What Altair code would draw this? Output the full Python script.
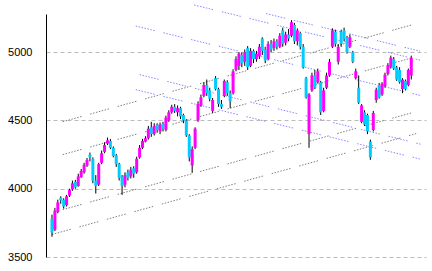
import altair as alt
import pandas as pd

# Candles (index 0..123), prices
opens = [3780, 3700, 3830, 3935, 3920, 3880, 3950, 3995, 4050, 4020,
         4085, 4120, 4170, 4250, 4220, 4060, 4030, 4190, 4270, 4330,
         4350, 4300, 4245, 4180, 4090, 4030, 4120, 4090, 4150, 4120,
         4230, 4300, 4345, 4370, 4450, 4400, 4470, 4420, 4475, 4430,
         4500, 4560, 4600, 4560, 4590, 4540, 4500, 4390, 4170, 4300,
         4500, 4610, 4680, 4760, 4720, 4570, 4810, 4730, 4620, 4680,
         4780, 4700, 4700, 4870, 4900, 4980, 4930, 5030, 4900, 5010,
         4950, 4970, 5100, 5020, 4950, 5060, 5030, 5080, 5040, 5160,
         5070, 5130, 5120, 5200, 5080, 5140, 5040, 4810, 4400, 4720,
         4830, 4780, 4780, 4570, 4740, 4830, 5040, 5150, 4930, 5150,
         5160, 5110, 5040, 5000, 4810, 4740, 4490, 4560, 4540, 4345,
         4430, 4650, 4760, 4690, 4750, 4840, 4890, 4950, 4890, 4870,
         4730, 4790, 4760, 4830]
highs = [3810, 3860, 3920, 3945, 3930, 3955, 4000, 4060, 4065, 4110,
         4145, 4190, 4225, 4265, 4230, 4100, 4190, 4280, 4340, 4375,
         4365, 4310, 4255, 4190, 4100, 4120, 4140, 4160, 4165, 4235,
         4320, 4365, 4385, 4460, 4490, 4480, 4480, 4485, 4490, 4535,
         4575, 4615, 4620, 4610, 4600, 4550, 4510, 4400, 4310, 4450,
         4640, 4690, 4780, 4800, 4740, 4665, 4825, 4740, 4650, 4800,
         4795, 4720, 4875, 4970, 5000, 5000, 5020, 5045, 5030, 5020,
         5010, 5060, 5110, 5040, 5080, 5090, 5100, 5095, 5140, 5180,
         5150, 5170, 5235, 5215, 5175, 5150, 5060, 4820, 4700, 4850,
         4870, 4880, 4790, 4740, 4850, 4950, 5175, 5165, 5060, 5165,
         5180, 5120, 5130, 5010, 4880, 4830, 4620, 4575, 4550, 4360,
         4570, 4740, 4775, 4780, 4850, 4920, 4975, 4965, 4900, 4890,
         4810, 4800, 4880, 4975]
lows = [3648, 3690, 3820, 3890, 3855, 3870, 3940, 3985, 4000, 4015,
        4080, 4110, 4160, 4200, 4040, 3965, 4020, 4180, 4260, 4320,
        4290, 4230, 4160, 4060, 3955, 4010, 4060, 4075, 4080, 4110,
        4220, 4290, 4340, 4360, 4380, 4390, 4410, 4400, 4420, 4420,
        4490, 4550, 4555, 4530, 4510, 4480, 4380, 4200, 4116, 4290,
        4490, 4600, 4670, 4680, 4640, 4555, 4720, 4600, 4585, 4670,
        4680, 4590, 4690, 4860, 4870, 4890, 4900, 4870, 4890, 4920,
        4930, 4950, 4980, 4920, 4940, 5000, 5010, 5020, 5030, 5040,
        5050, 5080, 5110, 5060, 5050, 5020, 4880, 4660, 4300, 4710,
        4730, 4770, 4540, 4560, 4730, 4820, 5030, 5040, 4910, 5040,
        5080, 4990, 5030, 4920, 4800, 4620, 4480, 4460, 4400, 4212,
        4420, 4630, 4660, 4680, 4740, 4830, 4880, 4870, 4790, 4770,
        4700, 4720, 4750, 4800]
closes = [3680, 3840, 3900, 3915, 3870, 3945, 3990, 4040, 4010, 4090,
          4130, 4175, 4210, 4230, 4060, 4020, 4180, 4260, 4320, 4355,
          4300, 4240, 4180, 4080, 4020, 4100, 4080, 4140, 4110, 4220,
          4300, 4350, 4370, 4440, 4400, 4460, 4430, 4470, 4440, 4520,
          4560, 4600, 4570, 4590, 4530, 4500, 4390, 4230, 4290, 4440,
          4620, 4670, 4760, 4700, 4660, 4650, 4730, 4620, 4600, 4790,
          4700, 4640, 4860, 4950, 4990, 4920, 5000, 4890, 5010, 4950,
          4990, 5040, 5010, 4940, 5060, 5020, 5080, 5040, 5120, 5060,
          5130, 5100, 5220, 5080, 5160, 5040, 4890, 4670, 4690, 4830,
          4740, 4860, 4560, 4720, 4830, 4930, 5160, 5060, 5040, 5060,
          5100, 5000, 5110, 4930, 4860, 4630, 4610, 4470, 4420, 4230,
          4555, 4725, 4670, 4770, 4835, 4905, 4960, 4880, 4800, 4780,
          4800, 4730, 4870, 4960]

# Trend lines: start/end (candle index, price)
gray_names = ["g1", "g2", "g3", "g4"]
gray_x1 = [3.67, 3.67, 3.67, 0.0]
gray_y1 = [4491, 4250, 3847, 3665]
gray_x2 = [124.67, 124.67, 124.67, 124.67]
gray_y2 = [5209, 4967, 4565, 4404]

blue_names = ["b1", "b2", "b3", "b4", "b5"]
blue_x1 = [48.67, 73.33, 28.67, 30.0, 28.67]
blue_y1 = [5346, 5283, 5192, 4836, 4726]
blue_x2 = [126.0, 126.0, 126.0, 126.67, 126.0]
blue_y2 = [4942, 5008, 4684, 4324, 4218]

tick_values = [3500, 4000, 4500, 5000]

df = pd.DataFrame({"i": list(range(len(opens))), "open": opens, "high": highs,
                   "low": lows, "close": closes})


def seg_frame(names, x1, y1, x2, y2):
    rows = []
    for n, a, b, c, d in zip(names, x1, y1, x2, y2):
        rows.append({"name": n, "x": a, "v": b})
        rows.append({"name": n, "x": c, "v": d})
    return pd.DataFrame(rows)


gdf = seg_frame(gray_names, gray_x1, gray_y1, gray_x2, gray_y2)
bdf = seg_frame(blue_names, blue_x1, blue_y1, blue_x2, blue_y2)

xs = alt.Scale(domain=[-0.333, 126.333], nice=False, zero=False)
ys = alt.Scale(domain=[3500, 5280], nice=False, zero=False)
yaxis = alt.Axis(values=tick_values, title=None, grid=True, ticks=False, format="d",
                 gridDash=[4, 3], gridColor="#BBBBBB", domainColor="black",
                 labelFont="Liberation Sans", labelFontSize=11, labelColor="black",
                 labelPadding=14)

dash = [1.5, 1.5, 1.5, 1.5, 1.5, 1.5, 1.5, 1.5, 1.5, 1.5, 1.5, 1.5, 1.5, 9]

gray_lines = alt.Chart(gdf).mark_line(color="#808080", strokeWidth=1, strokeDash=dash).encode(
    x=alt.X("x:Q", scale=xs, axis=None),
    y=alt.Y("v:Q", scale=ys, axis=yaxis),
    detail="name:N",
)
blue_lines = alt.Chart(bdf).mark_line(color="#8888FF", strokeWidth=1, strokeDash=dash).encode(
    x=alt.X("x:Q", scale=xs, axis=None),
    y=alt.Y("v:Q", scale=ys, axis=yaxis),
    detail="name:N",
)

base = alt.Chart(df)
wicks = base.mark_rule(color="black", strokeWidth=1).encode(
    x=alt.X("i:Q", scale=xs, axis=None),
    y=alt.Y("low:Q", scale=ys, axis=yaxis),
    y2="high:Q",
)
bodies = base.mark_bar(width=3).encode(
    x=alt.X("i:Q", scale=xs, axis=None),
    y=alt.Y("open:Q", scale=ys, axis=yaxis),
    y2="close:Q",
    color=alt.condition("datum.close >= datum.open", alt.value("#FF00FF"), alt.value("#00CCFF")),
)

chart = alt.layer(gray_lines, blue_lines, wicks, bodies).properties(
    width=380, height=243,
    padding={"left": 46, "top": 14, "right": 6, "bottom": 14},
    autosize="none",
    background="white",
).configure_view(stroke=None)

chart.save("out.html", embed_options={"renderer": "svg", "actions": False})
